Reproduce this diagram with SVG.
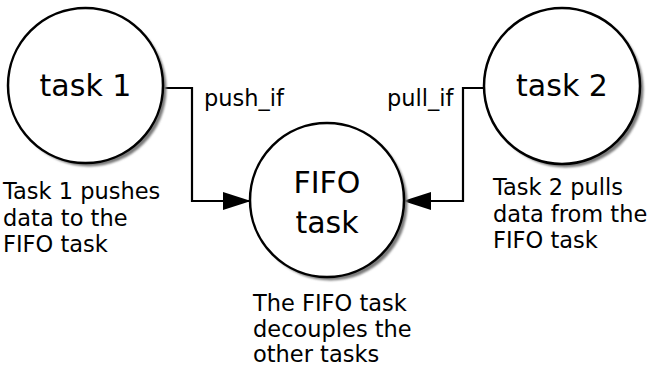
<svg xmlns="http://www.w3.org/2000/svg" width="650" height="375" viewBox="0 0 650 375">
  <style>
    .node { fill: #ffffff; stroke: #000000; stroke-width: 2.5; }
    .shadow { fill: #7a7a7a; filter: url(#blur); }
    .big { font-family: "DejaVu Sans", sans-serif; font-size: 30px; fill: #000; text-anchor: middle; }
    .lbl { font-family: "DejaVu Sans", sans-serif; font-size: 22.5px; fill: #000; }
    .conn { fill: none; stroke: #000; stroke-width: 2.2; }
  </style>
  <defs>
    <filter id="blur" x="-10%" y="-10%" width="120%" height="120%">
      <feGaussianBlur stdDeviation="0.8"/>
    </filter>
    <marker id="arrow" markerUnits="userSpaceOnUse" markerWidth="28" markerHeight="18" refX="28" refY="9" orient="auto">
      <path d="M0,0 L28,9 L0,18 z" fill="#000"/>
    </marker>
  </defs>
  <rect width="650" height="375" fill="#ffffff"/>

  <g id="connectors">
    <path class="conn" d="M163,88 H192 V201 H251" marker-end="url(#arrow)"/>
    <path class="conn" d="M484,88 H463 V201 H403" marker-end="url(#arrow)"/>
    <text class="lbl" x="204" y="106">push_if</text>
    <text class="lbl" x="387" y="106">pull_if</text>
  </g>

  <g id="task1">
    <circle class="shadow" cx="89" cy="89" r="77.5"/>
    <circle class="node" cx="85.5" cy="85.5" r="77.5"/>
    <text class="big" x="85.5" y="96">task 1</text>
  </g>

  <g id="task2">
    <circle class="shadow" cx="565.5" cy="89.5" r="78"/>
    <circle class="node" cx="562" cy="86" r="78"/>
    <text class="big" x="562" y="96">task 2</text>
  </g>

  <g id="fifo">
    <circle class="shadow" cx="330.5" cy="203.5" r="77"/>
    <circle class="node" cx="327" cy="200" r="77"/>
    <text class="big" x="327" y="193">FIFO</text>
    <text class="big" x="327" y="233">task</text>
  </g>

  <g id="note1">
    <text class="lbl" x="3" y="199">Task 1 pushes</text>
    <text class="lbl" x="3" y="226">data to the</text>
    <text class="lbl" x="3" y="252">FIFO task</text>
  </g>

  <g id="note2">
    <text class="lbl" x="493" y="195">Task 2 pulls</text>
    <text class="lbl" x="493" y="222">data from the</text>
    <text class="lbl" x="493" y="248">FIFO task</text>
  </g>

  <g id="note3">
    <text class="lbl" x="253" y="311">The FIFO task</text>
    <text class="lbl" x="253" y="337">decouples the</text>
    <text class="lbl" x="253" y="362">other tasks</text>
  </g>
</svg>
